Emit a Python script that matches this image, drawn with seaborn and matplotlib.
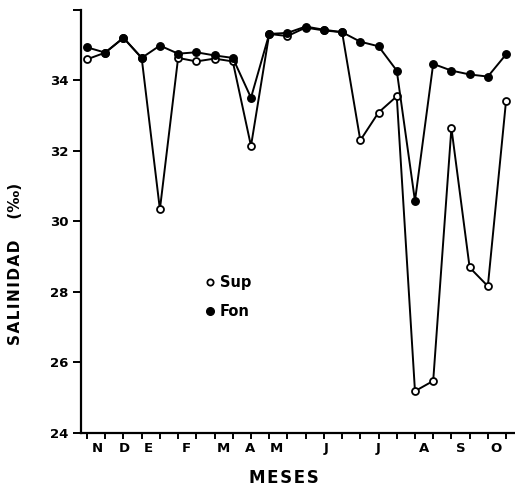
import matplotlib
matplotlib.use("Agg")
import matplotlib.pyplot as plt
import seaborn as sns
import pandas as pd
from matplotlib.lines import Line2D

# sampling index (twice-monthly samples)
muestra = list(range(24))
sup = [34.60, 34.79, 35.21, 34.64, 30.34, 34.64, 34.54, 34.62, 34.54, 32.14,
       35.32, 35.26, 35.50, 35.42, 35.37, 32.30, 33.09, 33.55, 25.18, 25.47,
       32.65, 28.69, 28.16, 33.43]
fon = [34.94, 34.79, 35.21, 34.64, 34.99, 34.76, 34.80, 34.71, 34.64, 33.51,
       35.32, 35.35, 35.53, 35.44, 35.37, 35.10, 34.97, 34.28, 30.58, 34.47,
       34.28, 34.17, 34.11, 34.74]
meses = ["N", "D", "E", "F", "M", "A", "M", "J", "J", "A", "S", "O"]
mes_pos = [0.56, 2.03, 3.38, 5.45, 7.46, 8.97, 10.42, 13.10, 16.00, 18.48, 20.50, 22.45]
yticks = [24, 26, 28, 30, 32, 34, 36]
yticklabels = ["24", "26", "28", "30", "32", "34", ""]

sns.set_style("white")
plt.rcParams["font.family"] = ["DejaVu Sans"]
plt.rcParams["font.weight"] = "bold"
plt.rcParams["text.color"] = "black"
plt.rcParams["axes.labelcolor"] = "black"

df = pd.DataFrame({"muestra": muestra, "Sup": sup, "Fon": fon})

fig = plt.figure(figsize=(5.15, 4.86), dpi=100)
ax = fig.add_axes([81 / 515, (486 - 432.7) / 486, (515 - 81) / 515, (432.7 - 10) / 486])

sns.lineplot(data=df, x="muestra", y="Sup", ax=ax, color="black", lw=1.4,
             marker="o", markersize=5.0, markerfacecolor="white",
             markeredgecolor="black", markeredgewidth=1.3, zorder=2)
sns.lineplot(data=df, x="muestra", y="Fon", ax=ax, color="black", lw=1.4,
             marker="o", markersize=5.4, markerfacecolor="black",
             markeredgecolor="black", markeredgewidth=1.0, zorder=3)

ax.set_xlim(-0.33, 23.49)
ax.set_ylim(24, 36)

for s in ["top", "right"]:
    ax.spines[s].set_visible(False)
for s in ["left", "bottom"]:
    ax.spines[s].set_color("black")
    ax.spines[s].set_linewidth(1.6)

ax.xaxis.remove_overlapping_locs = False
ax.set_yticks(yticks)
ax.set_yticklabels(yticklabels, fontsize=9.5, fontweight="bold", color="black")
ax.set_xticks(muestra)
ax.set_xticklabels([""] * len(muestra))
ax.set_xticks(mes_pos, minor=True)
ax.set_xticklabels(meses, minor=True, fontsize=9.5, fontweight="bold", color="black")
ax.tick_params(axis="y", which="major", direction="out", length=6, width=1.4,
               pad=3, colors="black", left=True)
ax.tick_params(axis="x", which="major", direction="out", length=4, width=1.4,
               colors="black", bottom=True)
ax.tick_params(axis="x", which="minor", length=0, pad=7, colors="black", bottom=True)

hs = "\u200a"
ax.set_xlabel(hs.join("MESES"), fontsize=12, fontweight="bold", color="black")
ax.xaxis.set_label_coords(0.468, -0.085)
ax.set_ylabel(hs.join("SALINIDAD") + "    (‰)", fontsize=11, fontweight="bold", color="black")
ax.yaxis.set_label_coords(-0.1325, 0.40)

handles = [
    Line2D([], [], ls="none", marker="o", markersize=4.5, markerfacecolor="white",
           markeredgecolor="black", markeredgewidth=1.3),
    Line2D([], [], ls="none", marker="o", markersize=5.5, markerfacecolor="black",
           markeredgecolor="black"),
]
leg = ax.legend(handles, ["Sup", "Fon"], loc="upper left", bbox_to_anchor=(0.256, 0.405),
                frameon=False, handlelength=0.6, handletextpad=0.4, labelspacing=1.0,
                prop={"size": 10.5, "weight": "bold"})
for t in leg.get_texts():
    t.set_color("black")

ax.set_facecolor("white")
fig.savefig("out.png", dpi=100, facecolor="white")
